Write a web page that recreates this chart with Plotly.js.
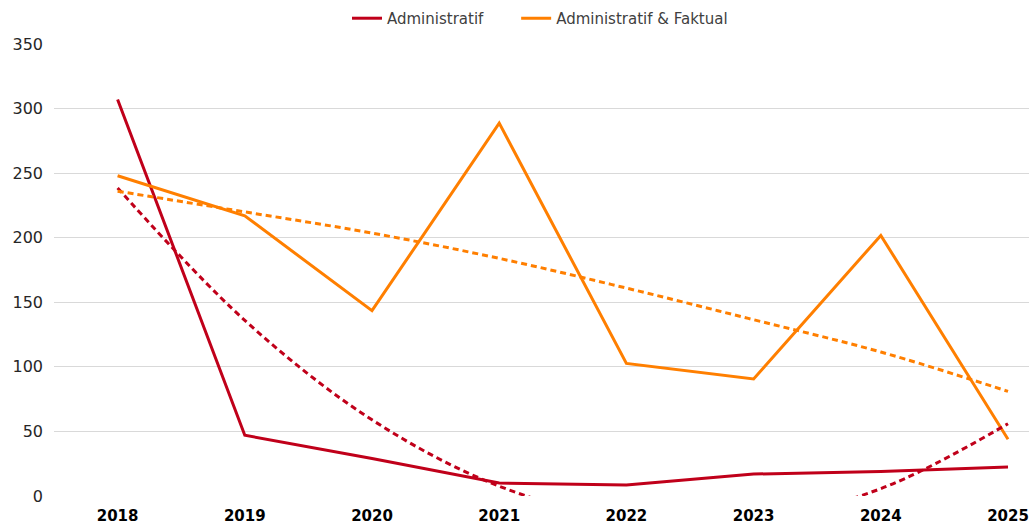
<!DOCTYPE html>
<html>
<head>
<meta charset="utf-8">
<script src="https://cdn.plot.ly/plotly-3.0.1.min.js"></script>
<style>
  html, body { margin: 0; padding: 0; background: #fff; }
  #chart { width: 1029px; height: 526px; }
</style>
</head>
<body>
<div id="chart"></div>
<script>
const years = ["2018", "2019", "2020", "2021", "2022", "2023", "2024", "2025"];
const administratif = [307, 47, 29, 10, 8.5, 17, 19, 22.5];
const administratifFaktual = [248, 217, 143.5, 288.7, 102.7, 90.6, 201.8, 44];
const trendAdministratif = [238.5, 136, 59, 7.6, -18.5, -19, 5.7, 56];
const trendAdministratifFaktual = [236, 220, 203.6, 184, 161, 136.5, 111.5, 81];
const seriesNames = ["Administratif", "Administratif & Faktual"];

const red = "#C0001A";
const orange = "#FF7F00";

const traces = [
  { x: years, y: administratif, name: seriesNames[0], type: "scatter", mode: "lines",
    legend: "legend", line: { color: red, width: 3 } },
  { x: years, y: administratifFaktual, name: seriesNames[1], type: "scatter", mode: "lines",
    legend: "legend2", line: { color: orange, width: 3 } },
  { x: years, y: trendAdministratif, name: "Trend " + seriesNames[0], type: "scatter", mode: "lines",
    showlegend: false, line: { color: red, width: 3, dash: "6px,4px", shape: "spline", smoothing: 1 } },
  { x: years, y: trendAdministratifFaktual, name: "Trend " + seriesNames[1], type: "scatter", mode: "lines",
    showlegend: false, line: { color: orange, width: 3, dash: "6px,4px", shape: "spline", smoothing: 1 } }
];

const legendBase = {
  orientation: "h", xanchor: "left", y: 1.02, yanchor: "bottom",
  font: { size: 15, color: "#404040" }, itemwidth: 30, bgcolor: "rgba(0,0,0,0)"
};

const layout = {
  width: 1029, height: 526,
  margin: { l: 54, r: 0, t: 44, b: 30 },
  paper_bgcolor: "#fff", plot_bgcolor: "#fff",
  font: { family: "DejaVu Sans, sans-serif", color: "#333" },
  showlegend: true,
  legend: Object.assign({}, legendBase, { x: 0.3005 }),
  legend2: Object.assign({}, legendBase, { x: 0.474 }),
  xaxis: {
    type: "category", categoryorder: "array", categoryarray: years,
    range: [-0.5, 7.165], showgrid: false, zeroline: false, showline: false,
    ticks: "", ticklabelstandoff: 9,
    tickfont: { family: "DejaVu Sans, sans-serif", size: 15, color: "#000", weight: "bold" }
  },
  yaxis: {
    range: [0, 350], dtick: 50, tick0: 0, showgrid: true, gridcolor: "#D9D9D9", gridwidth: 1,
    zeroline: false, showline: false, ticks: "", ticklabelstandoff: 10,
    tickfont: { family: "DejaVu Sans, sans-serif", size: 16, color: "#262626" }
  }
};

Plotly.newPlot("chart", traces, layout, { displayModeBar: false, staticPlot: true });
</script>
</body>
</html>
